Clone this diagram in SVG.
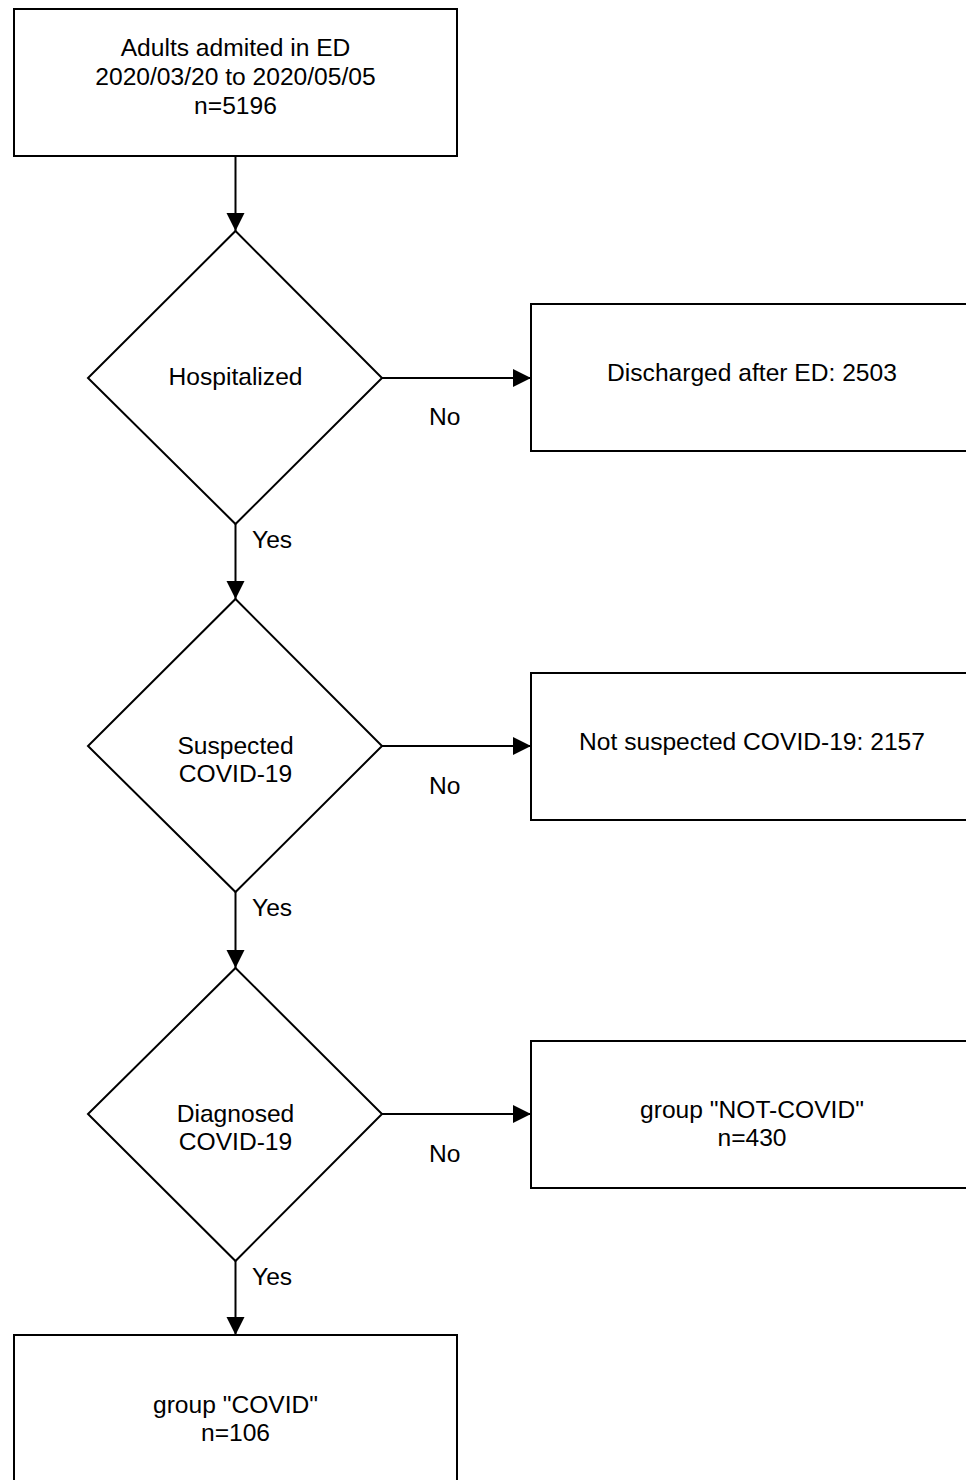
<svg xmlns="http://www.w3.org/2000/svg" width="966" height="1480" viewBox="0 0 966 1480">
<style>
.box{fill:#fff;stroke:#000;stroke-width:2}
.t{font-family:"Liberation Sans",Arial,sans-serif;font-size:24.6px;fill:#000;text-anchor:middle}
.l{font-family:"Liberation Sans",Arial,sans-serif;font-size:24.6px;fill:#000}
.c{fill:none;stroke:#000;stroke-width:2}
</style>
<defs>
<marker id="ah" markerUnits="userSpaceOnUse" markerWidth="20" markerHeight="20" refX="18" refY="9" orient="auto">
<path d="M0,0 L18,9 L0,18 Z" fill="#000"/>
</marker>
</defs>
<rect width="966" height="1480" fill="#fff"/>
<g id="connectors">
<line class="c" x1="235.5" y1="156" x2="235.5" y2="231" marker-end="url(#ah)"/>
<line class="c" x1="382" y1="378" x2="531" y2="378" marker-end="url(#ah)"/>
<line class="c" x1="235.5" y1="524" x2="235.5" y2="599" marker-end="url(#ah)"/>
<line class="c" x1="382" y1="746" x2="531" y2="746" marker-end="url(#ah)"/>
<line class="c" x1="235.5" y1="892" x2="235.5" y2="968" marker-end="url(#ah)"/>
<line class="c" x1="382" y1="1114" x2="531" y2="1114" marker-end="url(#ah)"/>
<line class="c" x1="235.5" y1="1261" x2="235.5" y2="1335" marker-end="url(#ah)"/>
<text class="l" x="429" y="425">No</text>
<text class="l" x="429" y="794">No</text>
<text class="l" x="429" y="1162">No</text>
<text class="l" x="252" y="548">Yes</text>
<text class="l" x="252" y="916">Yes</text>
<text class="l" x="252" y="1285">Yes</text>
</g>
<g id="start">
<rect class="box" x="14" y="9" width="443" height="147"/>
<text class="t" x="235.5" y="56">Adults admited in ED</text>
<text class="t" x="235.5" y="85">2020/03/20 to 2020/05/05</text>
<text class="t" x="235.5" y="114">n=5196</text>
</g>
<g id="hospitalized">
<polygon class="box" points="235.5,231 382,378 235.5,524 88,378"/>
<text class="t" x="235.5" y="385">Hospitalized</text>
</g>
<g id="discharged">
<rect class="box" x="531" y="304" width="443" height="147"/>
<text class="t" x="752" y="381">Discharged after ED: 2503</text>
</g>
<g id="suspected">
<polygon class="box" points="235.5,599 382,746 235.5,892 88,746"/>
<text class="t" x="235.5" y="754">Suspected</text>
<text class="t" x="235.5" y="782">COVID-19</text>
</g>
<g id="notsuspected">
<rect class="box" x="531" y="673" width="443" height="147"/>
<text class="t" x="752" y="750">Not suspected COVID-19: 2157</text>
</g>
<g id="diagnosed">
<polygon class="box" points="235.5,968 382,1114 235.5,1261 88,1114"/>
<text class="t" x="235.5" y="1122">Diagnosed</text>
<text class="t" x="235.5" y="1150">COVID-19</text>
</g>
<g id="notcovid">
<rect class="box" x="531" y="1041" width="443" height="147"/>
<text class="t" x="752" y="1118">group "NOT-COVID"</text>
<text class="t" x="752" y="1146">n=430</text>
</g>
<g id="covid">
<rect class="box" x="14" y="1335" width="443" height="147"/>
<text class="t" x="235.5" y="1413">group "COVID"</text>
<text class="t" x="235.5" y="1441">n=106</text>
</g>
</svg>
